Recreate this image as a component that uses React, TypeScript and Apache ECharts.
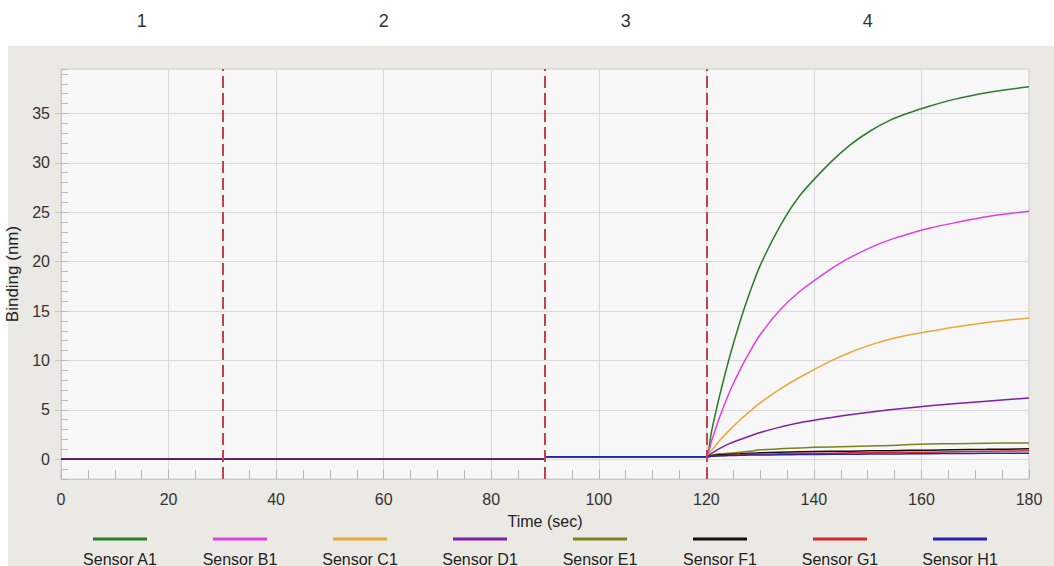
import React, { useEffect, useRef } from "react";
import * as echarts from "echarts";

// ---- data ----
const times = [0, 30, 60, 89.5, 90.5, 119.5, 120, 121, 122.5, 124.4, 126.3, 128.1, 130, 133.7, 137.4, 143, 146.7, 150.4, 154.1, 157.9, 161.6, 165.9, 172.1, 180];
const sensorA1 = [0, 0, 0, 0, 0.25, 0.25, 0.25, 2.9, 6.5, 10.5, 14.0, 16.9, 19.6, 23.6, 26.7, 30.0, 31.8, 33.2, 34.3, 35.1, 35.75, 36.4, 37.1, 37.7];
const sensorB1 = [0, 0, 0, 0, 0.25, 0.25, 0.25, 1.9, 4.3, 6.9, 9.1, 10.9, 12.6, 15.1, 17.0, 19.2, 20.4, 21.4, 22.2, 22.85, 23.4, 23.9, 24.55, 25.1];
const sensorC1 = [0, 0, 0, 0, 0.25, 0.25, 0.25, 0.9, 1.9, 3.0, 4.0, 4.85, 5.7, 7.1, 8.3, 9.9, 10.8, 11.55, 12.15, 12.6, 12.95, 13.35, 13.85, 14.3];
const sensorD1 = [0, 0, 0, 0, 0.25, 0.25, 0.25, 0.6, 1.1, 1.6, 2.0, 2.35, 2.7, 3.25, 3.7, 4.2, 4.5, 4.75, 5.0, 5.22, 5.42, 5.62, 5.88, 6.2];
const sensorE1 = [0, 0, 0, 0, 0.25, 0.25, 0.25, 0.4, 0.55, 0.6, 0.7, 0.8, 0.95, 1.05, 1.15, 1.25, 1.3, 1.35, 1.4, 1.5, 1.55, 1.58, 1.62, 1.65];
const sensorF1 = [0, 0, 0, 0, 0.25, 0.25, 0.25, 0.35, 0.45, 0.5, 0.55, 0.6, 0.65, 0.7, 0.75, 0.8, 0.82, 0.85, 0.87, 0.9, 0.92, 0.97, 1.0, 1.05];
const sensorG1 = [0, 0, 0, 0, 0.25, 0.25, 0.25, 0.3, 0.35, 0.4, 0.45, 0.5, 0.5, 0.55, 0.6, 0.6, 0.65, 0.65, 0.7, 0.7, 0.72, 0.75, 0.8, 0.85];
const sensorH1 = [0, 0, 0, 0, 0.25, 0.25, 0.25, 0.3, 0.35, 0.38, 0.4, 0.42, 0.43, 0.45, 0.47, 0.5, 0.5, 0.52, 0.53, 0.55, 0.56, 0.58, 0.6, 0.6];

const sensorNames = ["Sensor A1", "Sensor B1", "Sensor C1", "Sensor D1", "Sensor E1", "Sensor F1", "Sensor G1", "Sensor H1"];
const sensorValues = [sensorA1, sensorB1, sensorC1, sensorD1, sensorE1, sensorF1, sensorG1, sensorH1];
const sensorColors = ["#2a7d2a", "#e040e0", "#eaa83a", "#7d1fa8", "#7f7f1e", "#111111", "#d42a2a", "#2424b0"];

const xMin = 0;
const xMax = 180;
const phaseBoundaries = [30, 90, 120];
const phaseLabels = ["1", "2", "3", "4"];
const yTickValues = [0, 5, 10, 15, 20, 25, 30, 35];

const FONT = "'Liberation Sans', Arial, sans-serif";

export default function App() {
  const ref = useRef<HTMLDivElement>(null);

  useEffect(() => {
    document.body.style.margin = "0";
    if (!ref.current) return;
    const chart = echarts.init(ref.current, undefined, { renderer: "svg" });

    const edges = [xMin, ...phaseBoundaries, xMax];
    const areas = phaseLabels.map((name, i) => [
      { name, xAxis: edges[i] },
      { xAxis: edges[i + 1] },
    ]);

    const series = sensorNames.map((name, si) => {
      const s: any = {
        type: "line",
        name,
        yAxisIndex: 0,
        data: times.map((t, i) => [t, sensorValues[si][i]]),
        symbol: "none",
        smooth: 0.3,
        lineStyle: { width: 1.5, color: sensorColors[si] },
        itemStyle: { color: sensorColors[si] },
        emphasis: { disabled: true },
      };
      if (si === 0) {
        s.markLine = {
          silent: true,
          symbol: ["none", "none"],
          label: { show: false },
          lineStyle: { color: "#c4424c", type: [12, 5], width: 2 },
          data: phaseBoundaries.map((x) => ({ xAxis: x })),
        };
        s.markArea = {
          silent: true,
          itemStyle: { color: "rgba(0,0,0,0)" },
          label: {
            show: true,
            position: "top",
            distance: 39,
            fontSize: 18,
            color: "#333",
            fontFamily: FONT,
          },
          data: areas,
        };
      }
      return s;
    });

    const legendItems: any[] = [];
    sensorNames.forEach((name, i) => {
      const cx = 120 * (i + 1);
      legendItems.push({
        type: "line",
        shape: { x1: cx - 27, y1: 539, x2: cx + 27, y2: 539 },
        style: { stroke: sensorColors[i], lineWidth: 3 },
        z: 10,
      });
      legendItems.push({
        type: "text",
        x: cx,
        y: 559,
        style: {
          text: name,
          fill: "#222",
          fontSize: 16,
          fontFamily: FONT,
          align: "center",
          verticalAlign: "middle",
        },
        z: 10,
      });
    });

    chart.setOption({
      animation: false,
      backgroundColor: "#ffffff",
      textStyle: { fontFamily: FONT },
      graphic: [
        {
          type: "rect",
          shape: { x: 8, y: 46, width: 1046, height: 520 },
          style: { fill: "#ebe9e4" },
          z: -100,
          silent: true,
        },
        ...legendItems,
      ],
      grid: {
        left: 61,
        right: 25,
        top: 69,
        bottom: 87,
        outerBoundsMode: "none",
        containLabel: false,
        show: true,
        backgroundColor: "#f7f7f7",
        borderColor: "#cccccc",
        borderWidth: 1,
      },
      xAxis: {
        type: "value",
        min: xMin,
        max: xMax,
        interval: 20,
        name: "Time (sec)",
        nameLocation: "middle",
        nameGap: 34,
        nameTextStyle: { fontSize: 16, color: "#222", fontFamily: FONT },
        axisLine: { show: true, onZero: false, lineStyle: { color: "#c8c8c8" } },
        axisTick: { show: true, inside: true, length: 9, lineStyle: { color: "#b4b4b4" } },
        minorTick: { show: true, splitNumber: 4, length: 9, lineStyle: { color: "#b4b4b4" } },
        axisLabel: { fontSize: 16, color: "#333", margin: 12, fontFamily: FONT },
        splitLine: { show: true, lineStyle: { color: "#d9d9d9" } },
      },
      yAxis: [
        {
          type: "value",
          min: -2,
          max: 39.5,
          splitNumber: 8,
          position: "left",
          name: "Binding (nm)",
          nameLocation: "middle",
          nameGap: 36,
          nameRotate: 90,
          nameTextStyle: { fontSize: 17, color: "#222", fontFamily: FONT },
          axisLine: { show: true, onZero: false, lineStyle: { color: "#c8c8c8" } },
          axisTick: { show: true, length: 6, customValues: yTickValues, lineStyle: { color: "#c8c8c8" } },
          axisLabel: {
            fontSize: 16,
            color: "#333",
            margin: 11,
            fontFamily: FONT,
            customValues: yTickValues,
          },
          splitLine: { show: true, lineStyle: { color: "#d9d9d9" } },
        },
        {
          type: "value",
          min: -2,
          max: 39.5,
          interval: 1,
          position: "left",
          axisLine: { show: false, onZero: false },
          axisLabel: { show: false },
          splitLine: { show: false },
          axisTick: { show: true, inside: true, length: 7, lineStyle: { color: "#b8b8b8" } },
        },
      ],
      series,
    });

    return () => {
      chart.dispose();
    };
  }, []);

  return <div ref={ref} style={{ width: 1054, height: 566 }} />;
}
